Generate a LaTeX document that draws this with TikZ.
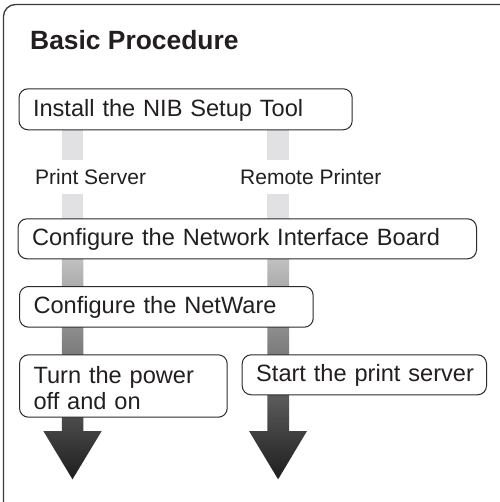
\documentclass[tikz,border=0pt]{standalone}
\usepackage{fontspec}
\setmainfont{Liberation Sans}
\definecolor{ink}{HTML}{231F20}
\definecolor{boxline}{HTML}{2B2B2B}
\definecolor{frameline}{HTML}{3A3A3A}
\definecolor{barlight}{HTML}{E1E1E3}
\definecolor{flowtop}{HTML}{DEDEDE}
\definecolor{flowmid}{HTML}{737373}
\definecolor{flowbot}{HTML}{1E1E1E}
\begin{document}
\begin{tikzpicture}[x=1pt,y=-1pt,
  frame/.style={draw=frameline, line width=1.3pt, rounded corners=12pt},
  box/.style={draw=boxline, line width=1pt, fill=white, rounded corners=9pt,
    anchor=north west, align=left, inner xsep=14pt, inner ysep=4pt, text=ink,
    font=\fontsize{23.6}{26.6}\selectfont},
  one/.style={text height=20pt, text depth=6pt},
  lbl/.style={anchor=base west, inner sep=0pt, text=ink, font=\fontsize{21}{24}\selectfont},
  titlestyle/.style={anchor=base west, inner sep=0pt, text=ink, font=\bfseries\fontsize{26.4}{30}\selectfont},
  barseg/.style={fill=barlight, draw=none},
  flow/.style={top color=flowtop, middle color=flowmid, bottom color=flowbot, draw=none}
]
\useasboundingbox (0,0) rectangle (499,502);
\fill[white] (0,0) rectangle (499,502);
\draw[frame] (3.5,4.5) rectangle (512,514);

% light upper bar segments
\fill[barseg] (61.8,129) rectangle (83.3,160);
\fill[barseg] (61.8,194.3) rectangle (83.3,220);
\fill[barseg] (267.3,129) rectangle (289,160);
\fill[barseg] (267.3,194.3) rectangle (289,220);

% shaded flow arrows
\path[flow] (61.8,218) -- (61.8,431) -- (43.3,431) -- (72.5,479.3) -- (101.7,431) -- (83.3,431) -- (83.3,218) -- cycle;
\path[flow] (267.3,218) -- (267.3,431) -- (249,431) -- (278.1,479.3) -- (307,431) -- (289,431) -- (289,218) -- cycle;

% title and labels
\node[titlestyle] (title) at (30,50) {Basic Procedure};
\node[lbl] (ps) at (35,184.3) {Print Server};
\node[lbl] (rp) at (240,184.3) {Remote Printer};

% step boxes
\node[box,one,minimum height=41pt,text width=305.2pt] (install) at (18.5,88.3) {Install the NIB Setup Tool};
\node[box,one,minimum height=40pt,text width=430.5pt] (nib) at (17.5,218.3) {Configure the Network Interface Board};
\node[box,one,minimum height=40.7pt,text width=265.7pt] (netware) at (19,286) {Configure the NetWare};
\node[box,minimum height=62.4pt,text width=179.7pt] (power) at (19,354.3) {\rule{0pt}{21pt}Turn the power\\off and on};
\node[box,one,minimum height=40pt,text width=216.3pt] (start) at (241.7,354.3) {\mbox{Start the print server}};
\end{tikzpicture}
\end{document}
